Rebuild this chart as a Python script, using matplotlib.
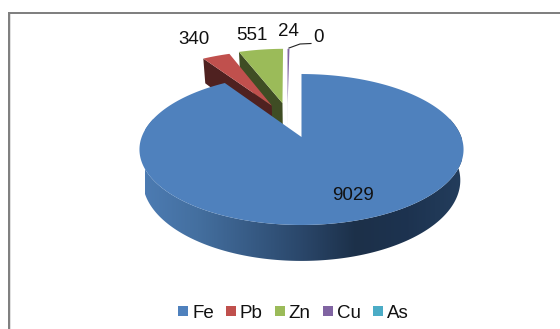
# -*- coding: utf-8 -*-
import numpy as np
import matplotlib
matplotlib.use("Agg")
import matplotlib.pyplot as plt
from matplotlib.colors import LinearSegmentedColormap
from matplotlib.patches import Polygon, Rectangle

labels = ["Fe", "Pb", "Zn", "Cu", "As"]
values = [9029, 340, 551, 24, 0]
colors = ["#4f81bd", "#c0504d", "#9bbb59", "#8064a2", "#4bacc6"]
wall_colors = ["#33567f", "#4f2120", "#3f4d24", "#cfcfdc", "#4bacc6"]
# explosion of each slice in the pie plane (u, v)
explode = [(0, 0), (-0.2, 0.46), (-0.129, 0.50), (-0.094, 0.50), (0, 0)]

plt.rcParams["font.family"] = ["Liberation Sans", "DejaVu Sans"]

# perspective of the pie plane, in pixels
CX, CY = 301.5, 137
A, B, C = 73.4, 0.1656, 159.8
DEPTH = 30


def project(u, v):
    d = 1 + B * v
    return CX + C * u / d, CY - A * v / d


def project_low(u, v):
    x, y = project(u, v)
    return CX + (x - CX) * 0.98, y + DEPTH / (1 + B * v)


def wedge(start, end, off):
    t = np.radians(np.linspace(start, end, max(int(end - start) * 2, 2)))
    u = np.r_[off[0], off[0] + np.sin(t)]
    v = np.r_[off[1], off[1] + np.cos(t)]
    return u, v


fig = plt.figure(figsize=(5.6, 3.29), dpi=100)
ax = fig.add_axes([0, 0, 1, 1])
ax.set_xlim(0, 560)
ax.set_ylim(329, 0)
ax.axis("off")

# chart frame
ax.add_patch(Rectangle((8, 12), 552, 2, fc="#808080", ec="none"))
ax.add_patch(Rectangle((8, 12), 1.5, 317, fc="#808080", ec="none"))
ax.add_patch(Rectangle((9.5, 14), 1.5, 315, fc="#e0e0e0", ec="none"))

angles = 360 * np.cumsum([0] + values) / sum(values)
spans = list(zip(angles[:-1], angles[1:]))

# exploded slices, back to front
for i in [2, 3, 1]:
    u, v = wedge(spans[i][0], spans[i][1], explode[i])
    # wall along the left radial edge
    pts = [project(u[0], v[0]), project(u[1], v[1]),
           project_low(u[1], v[1]), project_low(u[0], v[0])]
    ax.add_patch(Polygon(pts, fc=wall_colors[i], ec="none", zorder=2 + 0.1 * (3 - i)))
    ax.add_patch(Polygon(np.c_[project(u, v)], fc=colors[i], ec="none", zorder=2 + 0.1 * (3 - i)))

# side of the big slice, with the dark gradient
t = np.radians(np.linspace(75, 285, 200))
top = np.c_[project(np.sin(t), np.cos(t))]
low = np.c_[project_low(np.sin(t), np.cos(t))]
side = Polygon(np.r_[top, low[::-1]], transform=ax.transData, fc="none", ec="none")
ax.add_patch(side)
cmap = LinearSegmentedColormap.from_list(
    "side", ["#4c7bb2", "#446f9f", "#375b85", "#2a4669", "#1c3049", "#1d3350", "#233d5c"])
img = ax.imshow(np.linspace(0, 1, 256)[None, :], cmap=cmap, extent=(145, 462, 329, 0),
                aspect="auto", zorder=3)
img.set_clip_path(side)
ax.set_xlim(0, 560)
ax.set_ylim(329, 0)

u, v = wedge(spans[0][0], spans[0][1], explode[0])
ax.add_patch(Polygon(np.c_[project(u, v)], fc=colors[0], ec="none", zorder=4))
ax.plot([CX, CX], [74, 137], color="#d8d8d8", lw=0.8, zorder=3.5)

# value labels
label_pos = [(353, 196), (194, 39), (252, 36), (288, 32), (318, 37)]
for val, (x, y) in zip(values, label_pos):
    ax.text(x, y, str(val), fontsize=13.5, color="#111111", ha="center", va="center", zorder=6)
ax.plot([289, 300, 311], [48, 44, 43.5], color="#222222", lw=0.8, zorder=5)

# legend
handles = [Rectangle((0, 0), 1, 1, fc=c, ec="none") for c in colors]
ax.legend(handles, labels, loc="center", bbox_to_anchor=(293.5 / 560, 1 - 313 / 329),
          bbox_transform=ax.transAxes, ncol=5, frameon=False, fontsize=13.5,
          handlelength=0.53, handleheight=0.45, handletextpad=0.2, columnspacing=0.66,
          labelcolor="#111111")

fig.savefig("out.png", dpi=100)
